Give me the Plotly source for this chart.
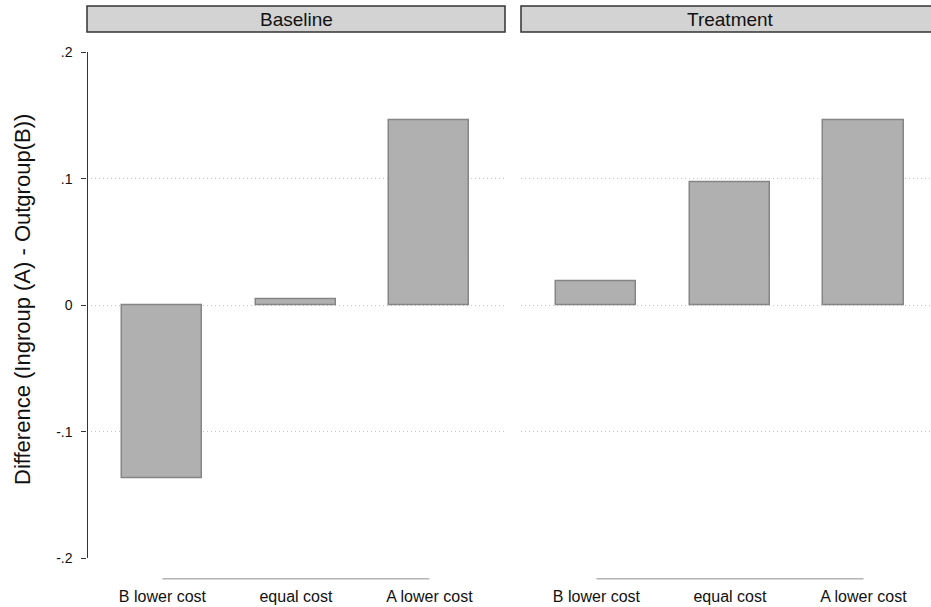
import plotly.graph_objects as go

# ---- data ----
categories = ["B lower cost", "equal cost", "A lower cost"]
baseline_vals = [-0.137, 0.0045, 0.1466]
treatment_vals = [0.019, 0.0976, 0.1466]
panel_titles = ["Baseline", "Treatment"]
y_tickvals = [-0.2, -0.1, 0, 0.1, 0.2]
y_ticktext = ["-.2", "-.1", "0", ".1", ".2"]
y_title = "Difference (Ingroup (A) - Outgroup(B))"

W, H = 931, 607
FONT = "Liberation Sans, Arial, sans-serif"

def px_x(v):
    return v / W

def px_y(v):
    return (H - v) / H

bar_fill = "#b0b0b0"
bar_line = "#858585"

fig = go.Figure()
fig.add_trace(go.Bar(x=categories, y=baseline_vals, width=0.6,
                     marker=dict(color=bar_fill, line=dict(color=bar_line, width=1.5)),
                     xaxis="x", yaxis="y", showlegend=False))
fig.add_trace(go.Bar(x=categories, y=treatment_vals, width=0.6,
                     marker=dict(color=bar_fill, line=dict(color=bar_line, width=1.5)),
                     xaxis="x2", yaxis="y2", showlegend=False))

ydom = [px_y(558.3), px_y(52.3)]
grid = dict(showgrid=True, gridcolor="#c4c4c4", griddash="1px,3px", gridwidth=1, zeroline=False)

xcommon = dict(type="category", showline=False, ticks="", showgrid=False, zeroline=False,
               automargin=False,
               tickfont=dict(family=FONT, size=16, color="#111"),
               ticklabelstandoff=27)

fig.update_layout(
    width=W, height=H,
    margin=dict(l=0, r=0, t=0, b=0, pad=0, autoexpand=False),
    paper_bgcolor="white", plot_bgcolor="white",
    bargap=0,
    xaxis=dict(domain=[px_x(87), px_x(505)], range=[-0.565, 2.566], anchor="y", **xcommon),
    xaxis2=dict(domain=[px_x(521), 1.0], range=[-0.565, 2.506], anchor="y2", **xcommon),
    yaxis=dict(domain=ydom, range=[-0.2, 0.2], tickvals=y_tickvals, ticktext=y_ticktext,
               showline=True, linecolor="#333", linewidth=1.3, ticks="outside", ticklen=5,
               tickcolor="#333", tickwidth=1, ticklabelstandoff=6, automargin=False,
               tickfont=dict(family=FONT, size=14, color="#111"), anchor="free", position=px_x(86.5),
               **grid),
    yaxis2=dict(domain=ydom, range=[-0.2, 0.2], tickvals=y_tickvals, showticklabels=False,
                showline=False, ticks="", anchor="x2", automargin=False, **grid),
)

shapes = []
# category axis lines (span first to last category)
for xr in ["x", "x2"]:
    shapes.append(dict(type="line", xref=xr, yref="paper", x0=0, x1=2,
                       y0=px_y(578.7), y1=px_y(578.7),
                       line=dict(color="#b4b4b4", width=1.5)))
# panel header boxes
headers = [(87, 505), (521, 939)]
for (a, b) in headers:
    shapes.append(dict(type="rect", xref="paper", yref="paper",
                       x0=px_x(a), x1=px_x(b), y0=px_y(32), y1=px_y(6),
                       fillcolor="#d3d3d3", line=dict(color="#333", width=1.5), layer="below"))
fig.update_layout(shapes=shapes)

annotations = []
for title, (a, b) in zip(panel_titles, headers):
    annotations.append(dict(text=title, xref="paper", yref="paper",
                            x=px_x((a + b) / 2), y=px_y(19), showarrow=False,
                            xanchor="center", yanchor="middle",
                            font=dict(family=FONT, size=19, color="#111")))
annotations.append(dict(text=y_title, xref="paper", yref="paper", x=px_x(22), y=px_y(300),
                        textangle=-90, showarrow=False, xanchor="center", yanchor="middle",
                        font=dict(family=FONT, size=22, color="#111")))
fig.update_layout(annotations=annotations)

fig.write_html("out.html", config={"displayModeBar": False},
               post_script="document.body.style.margin='0px';")
